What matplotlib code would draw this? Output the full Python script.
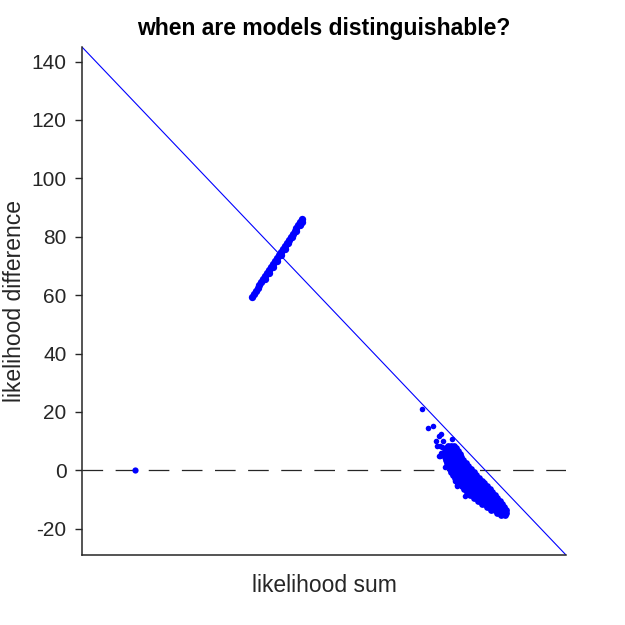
import numpy as np
import matplotlib
matplotlib.use("Agg")
import matplotlib.pyplot as plt

plt.rcParams['font.family'] = ['Liberation Sans', 'DejaVu Sans']
plt.rcParams['axes.unicode_minus'] = False

# axis ranges (x has no tick labels)
x_range = [-145, 29]
y_range = [-29, 145]
y_ticks = [-20, 0, 20, 40, 60, 80, 100, 120, 140]

# lone point on the zero line
lone_x = [-125.9]
lone_y = [0.0]

# the narrow streak crossing the diagonal
streak_x = [-84.0, -83.3, -82.6, -81.9, -81.2, -80.5, -79.8, -79.1, -78.4,
            -77.7, -77.0, -76.3, -75.6, -74.9, -74.2, -73.5, -72.8, -72.1,
            -71.4, -70.7, -70.0, -69.3, -68.6, -67.9, -67.2, -66.5, -65.8,
            -79.2, -77.8, -76.4, -75.0, -73.6, -72.2, -70.8, -69.4, -68.0,
            -66.6, -66.0]
streak_y = [59.4, 60.4, 61.4, 62.5, 63.5, 64.5, 65.5, 66.5, 67.6,
            68.6, 69.6, 70.6, 71.7, 72.7, 73.7, 74.7, 75.7, 76.8,
            77.8, 78.8, 79.8, 80.8, 81.9, 82.9, 83.9, 84.9, 86.0,
            65.5, 67.6, 69.6, 71.7, 73.7, 75.7, 77.8, 79.8, 81.9,
            83.9, 85.2]

# dense blob near the lower right, row by row
blob_y = [8.5, 7.5, 6.5, 5.5, 4.5, 3.5, 2.5, 1.5, 0.5, -0.5, -1.5, -2.5,
          -3.5, -4.5, -5.5, -6.5, -7.5, -8.5, -9.5, -10.5, -11.5, -12.5,
          -13.5, -14.5, -15.2]
blob_x = [
    [-13.4, -12.2, -11.3],
    [-14.0, -12.8, -11.6, -10.7],
    [-14.6, -13.4, -12.2, -11.0, -10.0],
    [-14.8, -13.6, -12.4, -11.2, -10.0, -9.2],
    [-14.6, -13.4, -12.2, -11.0, -9.8, -8.6],
    [-14.2, -13.0, -11.8, -10.6, -9.4, -8.2],
    [-13.8, -12.6, -11.4, -10.2, -9.0, -7.8, -7.0],
    [-13.2, -12.0, -10.8, -9.6, -8.4, -7.2, -6.1],
    [-12.8, -11.6, -10.4, -9.2, -8.0, -6.8, -5.6, -5.0],
    [-12.2, -11.0, -9.8, -8.6, -7.4, -6.2, -5.0, -4.2],
    [-11.6, -10.4, -9.2, -8.0, -6.8, -5.6, -4.4, -3.2],
    [-10.8, -9.6, -8.4, -7.2, -6.0, -4.8, -3.6, -2.4],
    [-10.2, -9.0, -7.8, -6.6, -5.4, -4.2, -3.0, -1.8, -1.1],
    [-9.2, -8.0, -6.8, -5.6, -4.4, -3.2, -2.0, -0.8, -0.4],
    [-8.4, -7.2, -6.0, -4.8, -3.6, -2.4, -1.2, 0.0, 0.6],
    [-7.6, -6.4, -5.2, -4.0, -2.8, -1.6, -0.4, 0.8, 1.6],
    [-6.6, -5.4, -4.2, -3.0, -1.8, -0.6, 0.6, 1.8, 2.5],
    [-5.6, -4.4, -3.2, -2.0, -0.8, 0.4, 1.6, 2.8, 3.4],
    [-4.2, -3.0, -1.8, -0.6, 0.6, 1.8, 3.0, 4.2],
    [-2.6, -1.4, -0.2, 1.0, 2.2, 3.4, 4.6, 5.3],
    [-1.2, 0.0, 1.2, 2.4, 3.6, 4.8, 6.0],
    [0.6, 1.8, 3.0, 4.2, 5.4, 6.6],
    [2.2, 3.4, 4.6, 5.8, 7.0, 7.5],
    [4.2, 5.4, 6.6, 7.6],
    [5.8, 7.0],
]

# stray points around the blob
stray_x = [-22.9, -20.5, -18.9, -16.5, -15.8, -17.7, -15.1, -11.9, -17.3,
           -15.7, -16.3, -16.7, -15.9, -16.3, -14.5, -10.9, -10.3, -10.3, -7.3]
stray_y = [21.0, 14.5, 15.3, 11.9, 12.3, 9.9, 9.9, 10.7, 8.2,
           8.0, 8.4, 5.0, 5.9, 4.8, 1.2, -3.8, -4.9, -5.5, -8.9]

bx = np.concatenate([np.array(r) for r in blob_x])
by = np.concatenate([np.full(len(r), yv) for r, yv in zip(blob_x, blob_y)])

fig = plt.figure(figsize=(6.25, 6.25), dpi=100)
ax = fig.add_axes([0.1312, 0.112, 0.7744, 0.8128])

ax.plot(x_range, [0, 0], color='#262626', lw=0.9, dashes=(16.5, 10))
ax.plot(x_range, [y_range[1], y_range[0]], color='blue', lw=0.8)
ax.scatter(lone_x, lone_y, s=20, c='blue', linewidths=0, zorder=3)
ax.scatter(streak_x, streak_y, s=28, c='blue', linewidths=0, zorder=3)
ax.scatter(bx, by, s=24, c='blue', linewidths=0, zorder=3)
ax.scatter(stray_x, stray_y, s=16, c='blue', linewidths=0, zorder=3)

ax.set_xlim(x_range)
ax.set_ylim(y_range)
ax.set_yticks(y_ticks)
ax.set_xticks([])
for side in ['top', 'right']:
    ax.spines[side].set_visible(False)
for side in ['left', 'bottom']:
    ax.spines[side].set_color('#262626')
    ax.spines[side].set_linewidth(1.1)
ax.tick_params(axis='y', direction='out', length=5, width=1, colors='#262626',
               labelsize=15, pad=6)

ax.set_xlabel('likelihood sum', fontsize=16.5, color='#262626', labelpad=14)
ax.set_ylabel('likelihood difference', fontsize=16.5, color='#262626', labelpad=4)
ax.set_title('when are models distinguishable?', fontsize=16.5, fontweight='bold',
             pad=9)

fig.savefig('out.png', dpi=100)
